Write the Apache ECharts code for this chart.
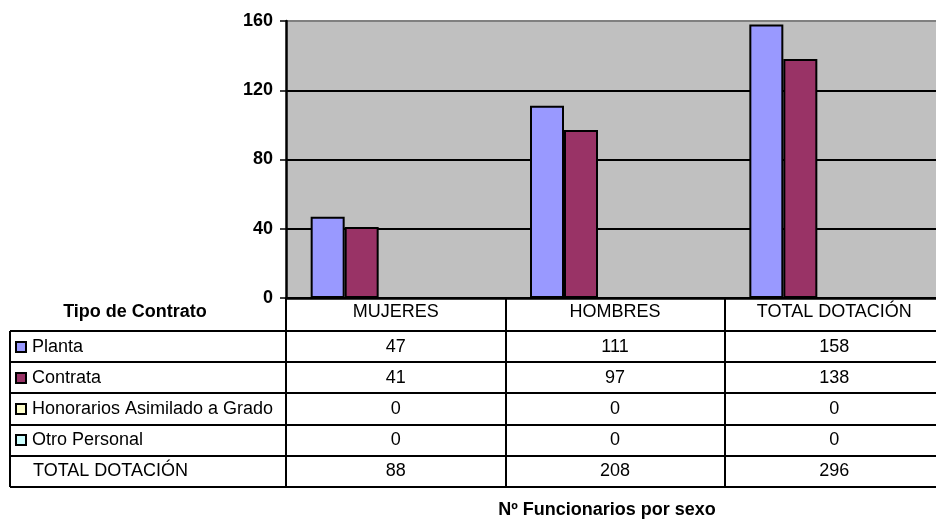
<!DOCTYPE html>
<html><head><meta charset="utf-8">
<script src="https://cdn.jsdelivr.net/npm/echarts@6/dist/echarts.min.js"></script>
<style>html,body{margin:0;padding:0;background:#fff}#c{width:936px;height:522px}</style>
</head><body><div id="c"></div>
<script>
const categories = ['MUJERES', 'HOMBRES', 'TOTAL DOTACIÓN'];
const planta = [47, 111, 158];
const contrata = [41, 97, 138];
const honorarios = [0, 0, 0];
const otroPersonal = [0, 0, 0];
const totalDotacion = [88, 208, 296];
const seriesNames = ['Planta', 'Contrata', 'Honorarios Asimilado a Grado', 'Otro Personal', 'TOTAL DOTACIÓN'];
const yTicks = [0, 40, 80, 120, 160];
const tableHeader = 'Tipo de Contrato';
const footerTitle = 'Nº Funcionarios por sexo';

const FONT = "'Liberation Sans', Arial, sans-serif";
const FS = 18;
const colors = ['#9999FF', '#993366', '#FFFFCC', '#CCFFFF'];
const seriesData = [planta, contrata, honorarios, otroPersonal, totalDotacion];
const G = { left: 286, top: 21, width: 658, height: 277 };
const headerH = 33, rowH = 31.2, tableLeft = 10;
const tableH = headerH + rowH * 5;

const chart = echarts.init(document.getElementById('c'), null, { renderer: 'canvas' });

const series = seriesData.map((d, i) => {
  const visible = i < 4;
  return {
    name: seriesNames[i],
    type: 'bar',
    data: d,
    barWidth: 34,
    barGap: '0%',
    silent: !visible,
    itemStyle: visible
      ? { color: colors[i], borderColor: '#000', borderWidth: 2 }
      : { color: 'rgba(0,0,0,0)', borderWidth: 0 },
    animation: false
  };
});

chart.setOption({
  animation: false,
  grid: { left: G.left, top: G.top, width: G.width, height: G.height, outerBoundsMode: 'none', containLabel: false,
    show: true, backgroundColor: '#C0C0C0', borderWidth: 0 },
  xAxis: {
    type: 'category',
    data: categories,
    boundaryGap: true,
    axisLine: { show: true, lineStyle: { color: '#000', width: 2.5 } },
    axisTick: { show: true, inside: false, length: tableH, lineStyle: { color: '#000', width: 2 } },
    axisLabel: { color: '#000', fontFamily: FONT, fontSize: FS, margin: 5, verticalAlign: 'top' },
    splitLine: { show: false }
  },
  yAxis: {
    type: 'value',
    min: yTicks[0], max: yTicks[yTicks.length - 1], interval: yTicks[1] - yTicks[0],
    axisLine: { show: true, lineStyle: { color: '#000', width: 2.5 } },
    axisTick: { show: true, inside: false, length: 6, lineStyle: { color: '#000', width: 1.5 } },
    axisLabel: { color: '#000', fontFamily: FONT, fontSize: FS, fontWeight: 'bold', margin: 13 },
    splitLine: { show: true, lineStyle: { color: ['#000', '#000', '#000', '#000', '#808080'], width: 2 } }
  },
  series: series
});

// Data table built from the arrays, positioned from the library's scales
const axisY = chart.convertToPixel({ yAxisIndex: 0 }, 0);
const colX = categories.map((c, i) => chart.convertToPixel({ xAxisIndex: 0 }, i));
const tableTop = axisY + headerH;
const graphic = [];

for (let r = 0; r <= 5; r++) {
  const y = Math.round(tableTop + r * rowH);
  graphic.push({ type: 'line', silent: true, shape: { x1: tableLeft, y1: y, x2: 960, y2: y }, style: { stroke: '#000', lineWidth: 2 } });
}
graphic.push({ type: 'line', silent: true, shape: { x1: tableLeft, y1: tableTop, x2: tableLeft, y2: Math.round(tableTop + 5 * rowH) }, style: { stroke: '#000', lineWidth: 2 } });

graphic.push({ type: 'text', silent: true, x: 135, y: axisY + headerH / 2 - 2,
  style: { text: tableHeader, fill: '#000', font: 'bold ' + FS + 'px ' + FONT, align: 'center', verticalAlign: 'middle' } });

for (let r = 0; r < 5; r++) {
  const cy = tableTop + r * rowH + rowH / 2;
  if (r < 4) {
    graphic.push({ type: 'rect', silent: true, shape: { x: 16, y: Math.round(cy) - 5, width: 10, height: 10 },
      style: { fill: colors[r], stroke: '#000', lineWidth: 2 } });
  }
  graphic.push({ type: 'text', silent: true, x: r < 4 ? 32 : 33, y: cy,
    style: { text: seriesNames[r], fill: '#000', font: FS + 'px ' + FONT, align: 'left', verticalAlign: 'middle' } });
  seriesData[r].forEach((v, i) => {
    graphic.push({ type: 'text', silent: true, x: colX[i], y: cy,
      style: { text: String(v), fill: '#000', font: FS + 'px ' + FONT, align: 'center', verticalAlign: 'middle' } });
  });
}

graphic.push({ type: 'text', silent: true, x: 607, y: 510,
  style: { text: footerTitle, fill: '#000', font: 'bold ' + FS + 'px ' + FONT, align: 'center', verticalAlign: 'middle' } });

chart.setOption({ graphic: graphic });
</script>
</body></html>
